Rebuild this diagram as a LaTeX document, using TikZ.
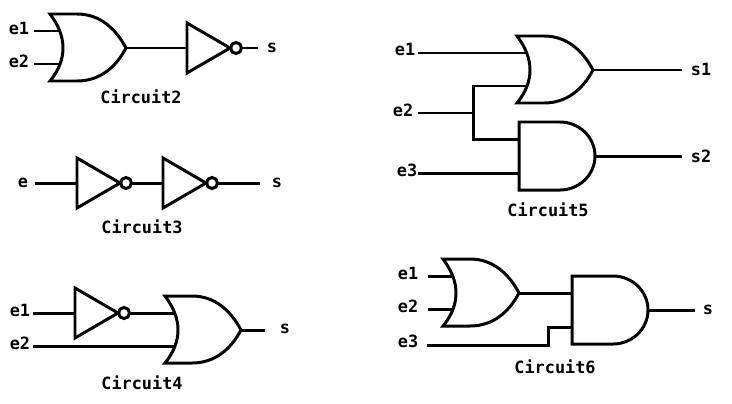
\documentclass[tikz,border=0pt]{standalone}
\usepackage{fontspec}
\setmonofont{DejaVu Sans Mono}
\tikzset{
    every node/.style={align=center,font=\ttfamily\bfseries\fontsize{9.6}{11}\selectfont,},
    wire/.style={line width=1.7pt,line join=miter,},
    orgate/.pic={
        \draw[wire,miter limit=3] (0,-34) -- (27,-34) .. controls (50,-34) and (66,-19) .. (76,0)
            .. controls (66,19) and (50,33) .. (27,33) -- (0,33)
            .. controls (9,22) and (13,11) .. (13,0) .. controls (13,-11) and (9,-22) .. (0,-34) -- cycle;
        \coordinate (-in1) at (9.5,-17);
        \coordinate (-in2) at (9.5,16);
        \coordinate (-out) at (76,0);
    },
    andgate/.pic={
        \draw[wire] (0,-34) -- (41,-34) .. controls (60,-34) and (76,-19) .. (76,0)
            .. controls (76,19) and (60,34) .. (41,34) -- (0,34) -- cycle;
        \coordinate (-in1) at (0,-17);
        \coordinate (-in2) at (0,17);
        \coordinate (-out) at (76,0);
    },
    notgate/.pic={
        \draw[wire] (0,-25) -- (43,0) -- (0,25) -- cycle;
        \draw[wire] (49,0) circle[radius=5.5];
        \coordinate (-in) at (0,0);
        \coordinate (-out) at (54.5,0);
    },
}

\begin{document}
\begin{tikzpicture}[x=0.02cm,y=-0.02cm]
    \useasboundingbox (0,0) rectangle (732,403);

    % Circuit2
    \node (a_e1) at (19,28) {e1};
    \node (a_e2) at (19,61) {e2};
    \node (a_s) at (272,48) {s};
    \node (a_name) at (141,97) {Circuit2};
    \coordinate (a_w1) at (34,31);
    \coordinate (a_w2) at (34,64);
    \coordinate (a_w3) at (258,48);
    \pic (a_or) at (50,48) {orgate};
    \pic (a_not) at (187,48) {notgate};
    \draw[wire] (a_w1) -- (a_or-in1);
    \draw[wire] (a_w2) -- (a_or-in2);
    \draw[wire] (a_or-out) -- (a_not-in);
    \draw[wire] (a_not-out) -- (a_w3);

    % Circuit3
    \node (b_e) at (23,183) {e};
    \node (b_s) at (277,183) {s};
    \node (b_name) at (142,227) {Circuit3};
    \coordinate (b_w1) at (35,183);
    \coordinate (b_w2) at (260,183);
    \pic (b_not1) at (77,183) {notgate};
    \pic (b_not2) at (163,183) {notgate};
    \draw[wire] (b_w1) -- (b_not1-in);
    \draw[wire] (b_not1-out) -- (b_not2-in);
    \draw[wire] (b_not2-out) -- (b_w2);

    % Circuit4
    \node (c_e1) at (20,310) {e1};
    \node (c_e2) at (20,343) {e2};
    \node (c_s) at (285,329) {s};
    \node (c_name) at (142,383) {Circuit4};
    \coordinate (c_w1) at (33,313);
    \coordinate (c_w2) at (33,346);
    \coordinate (c_w3) at (265,330);
    \pic (c_not) at (75,313) {notgate};
    \pic (c_or) at (165,330) {orgate};
    \draw[wire] (c_w1) -- (c_not-in);
    \draw[wire] (c_not-out) -- (c_or-in1);
    \draw[wire] (c_w2) -- (c_or-in2);
    \draw[wire] (c_or-out) -- (c_w3);

    % Circuit5
    \node (d_e1) at (405,49) {e1};
    \node (d_e2) at (403,110) {e2};
    \node (d_e3) at (407,170) {e3};
    \node (d_s1) at (701,69) {s1};
    \node (d_s2) at (701,156) {s2};
    \node (d_name) at (548,210) {Circuit5};
    \coordinate (d_w1) at (418,53);
    \coordinate (d_w2) at (418,113);
    \coordinate (d_w3) at (418,173);
    \coordinate (d_w4) at (682,70);
    \coordinate (d_w5) at (682,156);
    \coordinate (d_j) at (473,113);
    \pic (d_or) at (517,70) {orgate};
    \pic (d_and) at (519,156) {andgate};
    \draw[wire] (d_w1) -- (d_or-in1);
    \draw[wire] (d_w2) -- (d_j);
    \draw[wire] (d_or-in2) -| (d_j) |- (d_and-in1);
    \draw[wire] (d_w3) -- (d_and-in2);
    \draw[wire] (d_or-out) -- (d_w4);
    \draw[wire] (d_and-out) -- (d_w5);

    % Circuit6
    \node (f_e1) at (408,273) {e1};
    \node (f_e2) at (408,306) {e2};
    \node (f_e3) at (408,341) {e3};
    \node (f_s) at (708,310) {s};
    \node (f_name) at (555,367) {Circuit6};
    \coordinate (f_w1) at (428,276);
    \coordinate (f_w2) at (428,309);
    \coordinate (f_w3) at (427,345);
    \coordinate (f_w4) at (695,310);
    \coordinate (f_k) at (548,345);
    \pic (f_or) at (443,293) {orgate};
    \pic (f_and) at (572,310) {andgate};
    \draw[wire] (f_w1) -- (f_or-in1);
    \draw[wire] (f_w2) -- (f_or-in2);
    \draw[wire] (f_or-out) -- (f_and-in1);
    \draw[wire] (f_w3) -- (f_k) |- (f_and-in2);
    \draw[wire] (f_and-out) -- (f_w4);
\end{tikzpicture}
\end{document}
